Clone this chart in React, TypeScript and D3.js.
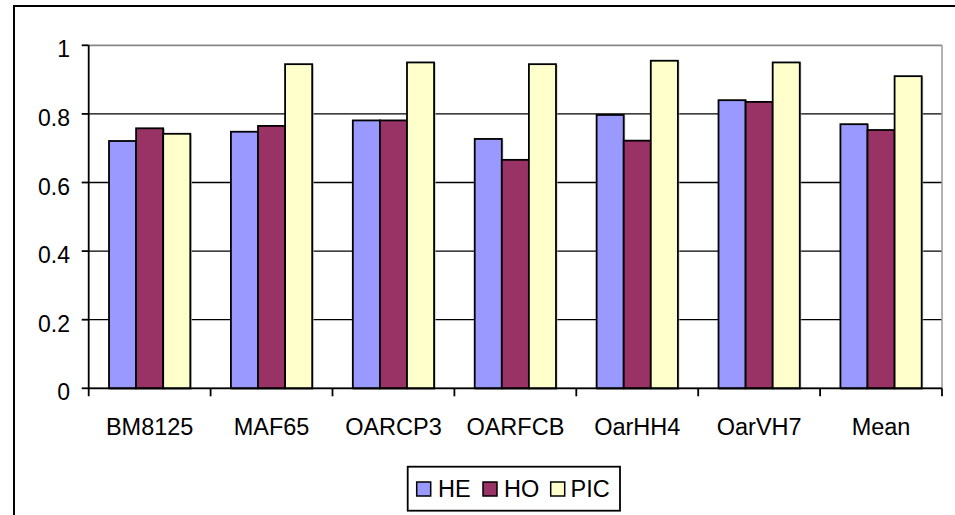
import React from "react";
import * as d3 from "d3";

const categories = ["BM8125", "MAF65", "OARCP3", "OARFCB", "OarHH4", "OarVH7", "Mean"];
const seriesNames = ["HE", "HO", "PIC"];
const heValues = [0.721, 0.748, 0.781, 0.727, 0.797, 0.84, 0.77];
const hoValues = [0.758, 0.765, 0.781, 0.666, 0.722, 0.835, 0.753];
const picValues = [0.742, 0.945, 0.95, 0.945, 0.955, 0.95, 0.91];
const seriesColors = ["#9999FF", "#993366", "#FFFFCC"];
const yTicks = [0, 0.2, 0.4, 0.6, 0.8, 1];

const W = 955;
const H = 515;
const plot = { left: 88.7, right: 942, top: 45.3, bottom: 388.3 };
const font = "'Liberation Sans', Arial, sans-serif";

export default function App() {
  const values = [heValues, hoValues, picValues];
  const x = d3
    .scaleBand<string>()
    .domain(categories)
    .range([plot.left, plot.right])
    .paddingInner(0)
    .paddingOuter(0);
  const bw = x.bandwidth();
  const barW = bw / 4.5;
  const groupOffset = (bw - barW * 3) / 2;
  const y = d3.scaleLinear().domain([0, 1]).range([plot.bottom, plot.top]);

  const legend = { x: 407.7, y: 466.7, w: 212.3, h: 44 };
  const legendItems = [
    { sw: 416.7, tx: 438 },
    { sw: 483, tx: 504 },
    { sw: 550.7, tx: 570.5 },
  ];

  return (
    <svg
      width={W}
      height={H}
      style={{ position: "absolute", left: 0, top: 0, background: "#fff" }}
      fontFamily={font}
    >
      <rect x={0} y={0} width={W} height={H} fill="#fff" />
      {/* chart frame */}
      <rect x={14} y={6} width={W + 20} height={H + 20} fill="none" stroke="#000" strokeWidth={2} />

      {/* gridlines */}
      {yTicks.map((t) => (
        <line
          key={"g" + t}
          x1={plot.left}
          x2={plot.right}
          y1={y(t)}
          y2={y(t)}
          stroke={t === 1 ? "#888" : "#000"}
          strokeWidth={t === 1 ? 1.8 : 1.3}
        />
      ))}
      {/* plot area right edge */}
      <line x1={plot.right} x2={plot.right} y1={plot.top} y2={plot.bottom} stroke="#999" strokeWidth={1.5} />

      {/* bars */}
      {categories.map((c, ci) =>
        values.map((vals, si) => {
          const bx = (x(c) as number) + groupOffset + si * barW;
          const by = y(vals[ci]);
          return (
            <g key={c + si}>
              <rect
                x={bx + 1}
                y={by + 1}
                width={barW}
                height={plot.bottom - by}
                fill="none"
                stroke="#bbb"
                strokeWidth={1}
              />
              <rect
                x={bx}
                y={by}
                width={barW}
                height={plot.bottom - by}
                fill={seriesColors[si]}
                stroke="#000"
                strokeWidth={1.8}
              />
            </g>
          );
        })
      )}

      {/* y axis */}
      <line x1={plot.left} x2={plot.left} y1={plot.top} y2={plot.bottom + 8} stroke="#000" strokeWidth={1.8} />
      {yTicks.map((t) => (
        <g key={"t" + t}>
          <line x1={plot.left - 7} x2={plot.left} y1={y(t)} y2={y(t)} stroke="#000" strokeWidth={1.8} />
          <text x={70} y={y(t) + 12} textAnchor="end" fontSize={23} fill="#000">
            {t === 0 || t === 1 ? String(t) : t.toFixed(1)}
          </text>
        </g>
      ))}

      {/* x axis */}
      <line x1={plot.left} x2={plot.right} y1={plot.bottom} y2={plot.bottom} stroke="#000" strokeWidth={1.8} />
      {categories.map((c) => (
        <line
          key={"xt" + c}
          x1={(x(c) as number) + bw}
          x2={(x(c) as number) + bw}
          y1={plot.bottom}
          y2={plot.bottom + 8}
          stroke="#000"
          strokeWidth={1.8}
        />
      ))}
      {categories.map((c) => (
        <text
          key={"xl" + c}
          x={(x(c) as number) + bw / 2}
          y={435}
          textAnchor="middle"
          fontSize={23.5}
          fill="#000"
        >
          {c}
        </text>
      ))}

      {/* legend */}
      <rect x={legend.x} y={legend.y} width={legend.w} height={legend.h} fill="#fff" stroke="#000" strokeWidth={1.8} />
      {seriesNames.map((s, i) => (
        <g key={"l" + s}>
          <rect x={legendItems[i].sw} y={482} width={14} height={14} fill={seriesColors[i]} stroke="#000" strokeWidth={1.5} />
          <text x={legendItems[i].tx} y={497} fontSize={23.5} fill="#000">
            {s}
          </text>
        </g>
      ))}
    </svg>
  );
}
